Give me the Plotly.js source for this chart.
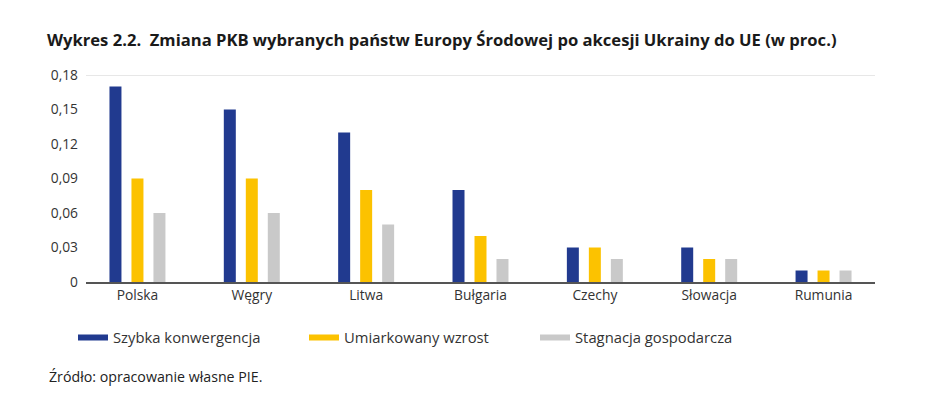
<!DOCTYPE html>
<html>
<head>
<meta charset="utf-8">
<script src="https://cdn.plot.ly/plotly-3.0.1.min.js"></script>
<style>html,body{margin:0;padding:0;background:#fff;}#chart{width:948px;height:398px;}</style>
</head>
<body>
<div id="chart"></div>
<script>
const categories = ["Polska", "Węgry", "Litwa", "Bułgaria", "Czechy", "Słowacja", "Rumunia"];
const seriesNames = ["Szybka konwergencja", "Umiarkowany wzrost", "Stagnacja gospodarcza"];
const szybka = [0.17, 0.15, 0.13, 0.08, 0.03, 0.03, 0.01];
const umiarkowany = [0.09, 0.09, 0.08, 0.04, 0.03, 0.02, 0.01];
const stagnacja = [0.06, 0.06, 0.05, 0.02, 0.02, 0.02, 0.01];
const yTickVals = [0, 0.03, 0.06, 0.09, 0.12, 0.15, 0.18];
const yTickText = ["0", "0,03", "0,06", "0,09", "0,12", "0,15", "0,18"];
const colors = ["#213a8f", "#fcc200", "#c9c9c9"];
const values = [szybka, umiarkowany, stagnacja];

const traces = [];
values.forEach((v, i) => {
  traces.push({type: "bar", x: categories, y: v, name: seriesNames[i],
    marker: {color: colors[i]}, showlegend: false, hoverinfo: "x+y"});
});
values.forEach((v, i) => {
  traces.push({type: "scatter", mode: "lines", x: [null], y: [null], name: seriesNames[i],
    line: {color: colors[i], width: 6}, showlegend: true});
});

const font = "'Open Sans', sans-serif";
const plotW = 948 - 86 - 73, plotH = 398 - 75 - 116;
const layout = {
  width: 948, height: 398,
  margin: {l: 86, r: 73, t: 75, b: 116},
  paper_bgcolor: "#fff", plot_bgcolor: "#fff",
  barmode: "group", bargap: 0.423, bargroupgap: 0.4545,
  font: {family: font, size: 13, color: "#333"},
  title: {text: "<b>Wykres 2.2.  Zmiana PKB wybranych państw Europy Środowej po akcesji Ukrainy do UE (w proc.)</b>",
    x: 47/948, xanchor: "left", xref: "container", y: 1 - 40/398, yref: "container", yanchor: "middle",
    font: {family: font, size: 16.6, color: "#1a1a1a"}},
  xaxis: {type: "category", range: [-0.45, 6.45], showgrid: false, showline: true, linecolor: "#555", linewidth: 1.5,
    ticks: "", tickfont: {size: 13.8, color: "#333"}, fixedrange: true},
  yaxis: {range: [0, 0.18], tickvals: yTickVals, ticktext: yTickText, showgrid: false,
    zeroline: false, showline: false, ticks: "", ticklabelstandoff: 7,
    tickfont: {size: 13.8, color: "#333"}, fixedrange: true},
  shapes: [{type: "line", xref: "paper", x0: 0, x1: 1, yref: "y", y0: yTickVals[yTickVals.length-1], y1: yTickVals[yTickVals.length-1],
    line: {color: "#cfcfcf", width: 1}}],
  legend: {orientation: "h", x: (73-86)/plotW, xref: "paper", xanchor: "left", y: -(338-282)/plotH, yanchor: "middle",
    font: {family: font, size: 14.8, color: "#333"}, traceorder: "normal",
    entrywidth: 186, entrywidthmode: "pixels"},
  annotations: [{text: "Źródło: opracowanie własne PIE.", xref: "paper", yref: "paper",
    x: (47-86)/plotW, xanchor: "left", y: -(376-282)/plotH, yanchor: "middle", showarrow: false,
    font: {family: font, size: 14.2, color: "#222"}}]
};
Plotly.newPlot("chart", traces, layout, {displayModeBar: false, staticPlot: true});
</script>
</body>
</html>
